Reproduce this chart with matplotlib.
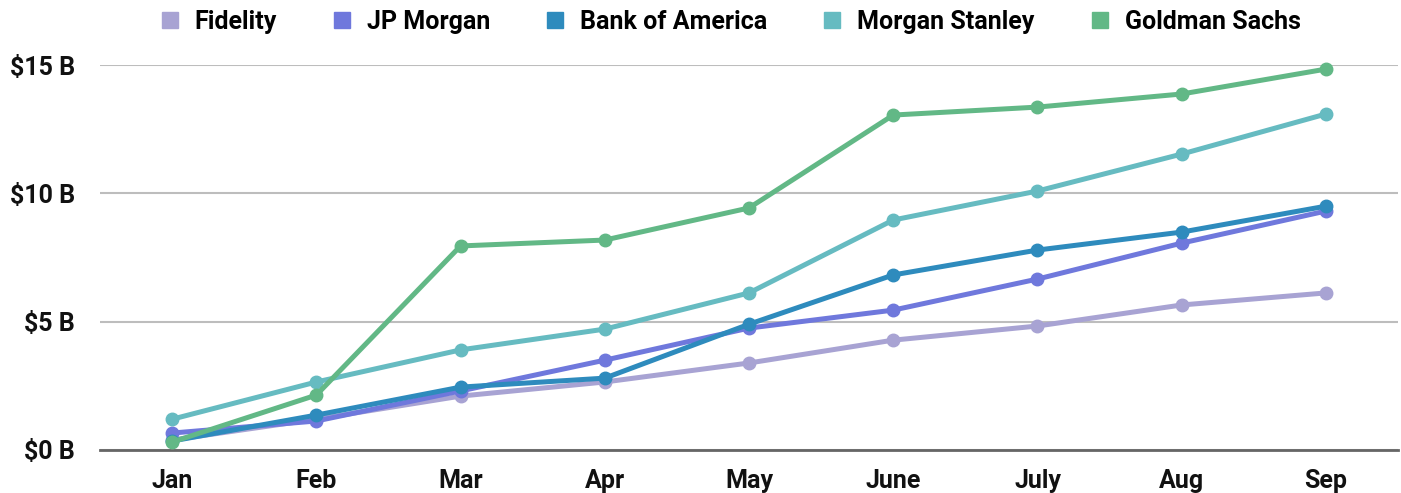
import matplotlib
matplotlib.use("Agg")
import matplotlib.pyplot as plt
from matplotlib.ticker import FuncFormatter

months = ["Jan", "Feb", "Mar", "Apr", "May", "June", "July", "Aug", "Sep"]
fidelity = [0.39, 1.20, 2.10, 2.65, 3.39, 4.28, 4.83, 5.65, 6.12]
jp_morgan = [0.66, 1.13, 2.30, 3.50, 4.75, 5.45, 6.66, 8.06, 9.31]
bank_of_america = [0.35, 1.36, 2.45, 2.80, 4.90, 6.82, 7.79, 8.49, 9.50]
morgan_stanley = [1.20, 2.65, 3.90, 4.71, 6.12, 8.96, 10.09, 11.53, 13.09]
goldman_sachs = [0.31, 2.14, 7.95, 8.18, 9.43, 13.05, 13.36, 13.87, 14.84]

series = [
    ("Fidelity", fidelity, "#a8a3d3"),
    ("JP Morgan", jp_morgan, "#6f78dc"),
    ("Bank of America", bank_of_america, "#2e8bbd"),
    ("Morgan Stanley", morgan_stanley, "#66bbc1"),
    ("Goldman Sachs", goldman_sachs, "#62b886"),
]

plt.rcParams['font.family'] = ['Roboto', 'DejaVu Sans']
plt.rcParams['font.weight'] = 'bold'

fig = plt.figure(figsize=(14.01, 4.93), dpi=100)
ax = fig.add_axes([100/1401, 1-450/493, (1398-100)/1401, (450-65)/493])

x = list(range(len(months)))
for name, vals, col in series:
    ax.plot(x, vals, color=col, lw=3.6, marker='o', ms=9, label=name,
            clip_on=False, solid_capstyle='round', solid_joinstyle='round', zorder=3)

ax.set_xlim(-0.5, len(months) - 0.5)
ax.set_ylim(0, 15)
ax.set_yticks([0, 5, 10, 15])
ax.yaxis.set_major_formatter(FuncFormatter(lambda v, p: f"${v:.0f} B"))
ax.set_xticks(x)
ax.set_xticklabels(months)
ax.tick_params(axis='both', length=0, labelsize=18, colors='#111111')
ax.tick_params(axis='x', pad=14)
ax.tick_params(axis='y', pad=18)
for lab in ax.get_xticklabels() + ax.get_yticklabels():
    lab.set_fontweight('bold')

ax.grid(axis='y', color='#bdbdbd', lw=1.5, zorder=0)
for s in ['top', 'right', 'left']:
    ax.spines[s].set_visible(False)
ax.spines['bottom'].set_color('#666666')
ax.spines['bottom'].set_linewidth(2)
ax.spines['bottom'].set_zorder(2)

handles = [plt.Line2D([], [], marker='s', ls='none', color=c, ms=11) for _, _, c in series]
fig.legend(handles, [n for n, _, _ in series], loc='center', bbox_to_anchor=(730/1401, 1-22/493),
           ncol=5, frameon=False, handlelength=0.8, handletextpad=0.6,
           columnspacing=2.2, prop={'weight': 'bold', 'size': 18})

fig.savefig("out.png", dpi=100)
